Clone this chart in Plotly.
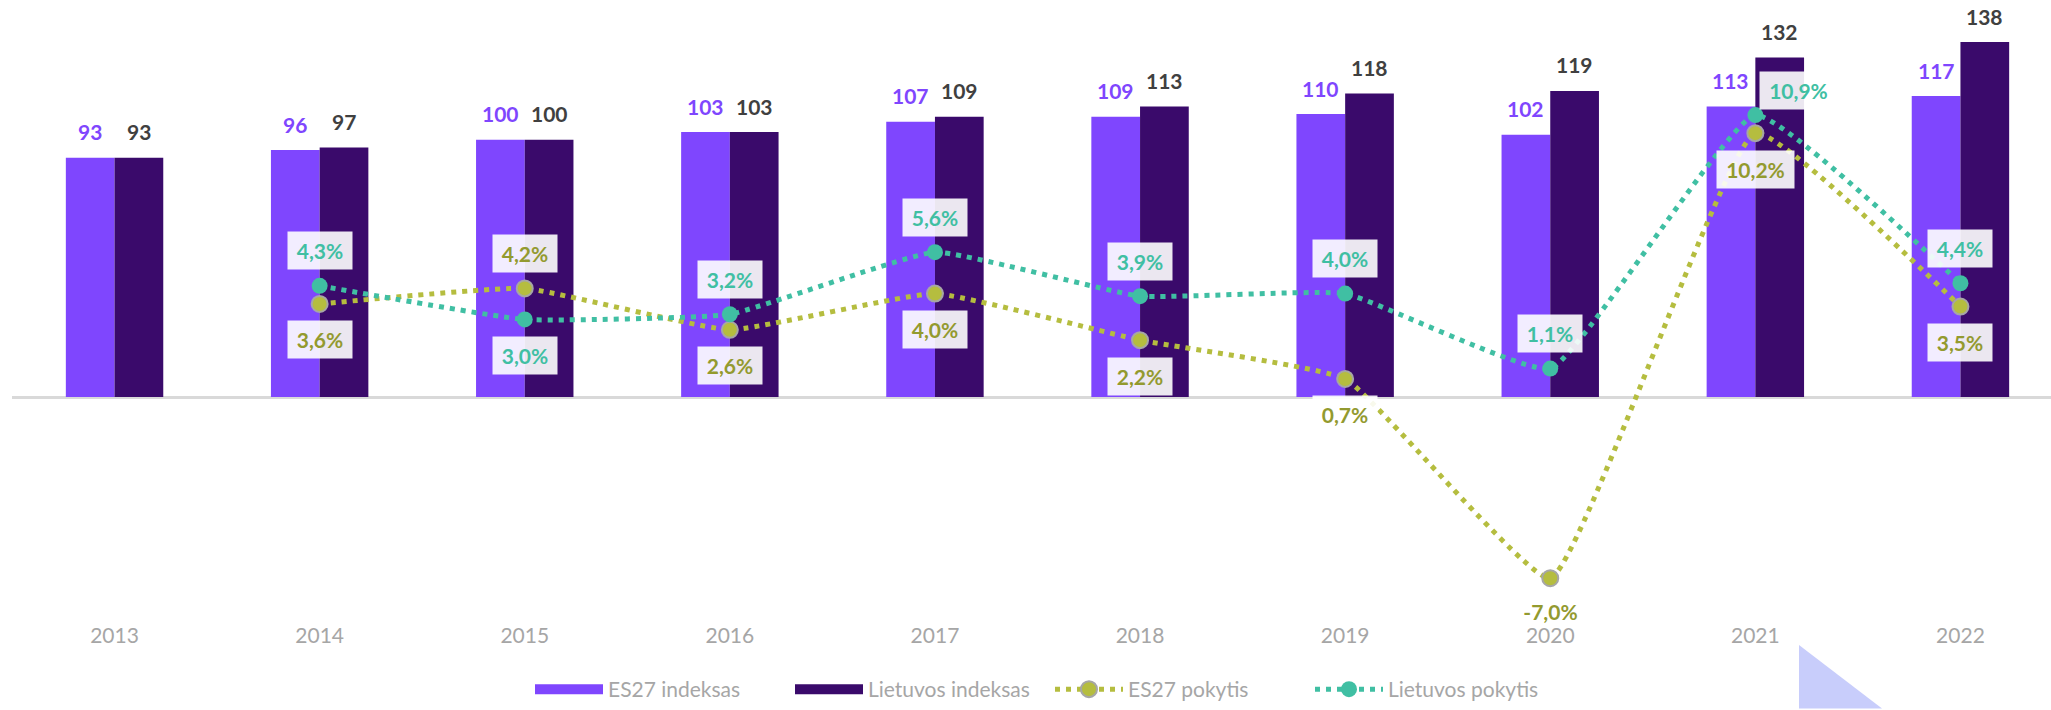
import plotly.graph_objects as go

# ---------------- data ----------------
years = ["2013", "2014", "2015", "2016", "2017", "2018", "2019", "2020", "2021", "2022"]
es_index = [93, 96, 100, 103, 107, 109, 110, 102, 113, 117]
lt_index = [93, 97, 100, 103, 109, 113, 118, 119, 132, 138]
es_change = [None, 3.6, 4.2, 2.6, 4.0, 2.2, 0.7, -7.0, 10.2, 3.5]
lt_change = [None, 4.3, 3.0, 3.2, 5.6, 3.9, 4.0, 1.1, 10.9, 4.4]

# label placement for the change series ("a" above, "b" below, "r" right/above)
es_label_pos = [None, "b", "a", "b", "b", "b", "b", "b", "b", "b"]
lt_label_pos = [None, "a", "b", "a", "a", "a", "a", "a", "r", "a"]

# ---------------- style ----------------
C_ES_BAR = "#7f46fe"
C_LT_BAR = "#3a0a6b"
C_ES_LINE = "#b5bd3f"
C_ES_TXT = "#939a2f"
C_LT_LINE = "#40bfa3"
C_AXIS_TXT = "#a6a6a6"
FONT = "Lato"

W, H = 2051, 710
ML, MR, MT, MB = 12, 0, 0, 86
plot_w = W - ML - MR
cat_px = 205.1
x_range = [-0.5, -0.5 + plot_w / cat_px]

zero_px = 399 - MT
plot_h = H - MT - MB
bar_px = 2.585
pct_px = 26.0
y_range = [-(plot_h - zero_px) / bar_px, zero_px / bar_px]
y2_range = [-(plot_h - zero_px) / pct_px, zero_px / pct_px]

fig = go.Figure()

fig.add_trace(go.Bar(x=years, y=es_index, name="ES27 indeksas", marker=dict(color=C_ES_BAR, line=dict(width=0)),
                     showlegend=False, offsetgroup="es", hoverinfo="skip"))
fig.add_trace(go.Bar(x=years, y=lt_index, name="Lietuvos indeksas", marker=dict(color=C_LT_BAR, line=dict(width=0)),
                     showlegend=False, offsetgroup="lt", hoverinfo="skip"))

# legend proxies for the bars (wide rectangles)
fig.add_trace(go.Scatter(x=[None], y=[None], mode="lines", name="ES27 indeksas",
                         line=dict(color=C_ES_BAR, width=13)))
fig.add_trace(go.Scatter(x=[None], y=[None], mode="lines", name="Lietuvos indeksas",
                         line=dict(color=C_LT_BAR, width=13)))

fig.add_trace(go.Scatter(x=years, y=es_change, yaxis="y2", mode="lines+markers", name="ES27 pokytis",
                         line=dict(color=C_ES_LINE, width=5, dash="5px,6px", shape="spline", smoothing=0.35),
                         marker=dict(size=16, color=C_ES_LINE, line=dict(color="#a6a6a6", width=2))))
fig.add_trace(go.Scatter(x=years, y=lt_change, yaxis="y2", mode="lines+markers", name="Lietuvos pokytis",
                         line=dict(color=C_LT_LINE, width=5, dash="5px,6px", shape="spline", smoothing=0.35),
                         marker=dict(size=16, color=C_LT_LINE, line=dict(width=0))))

ann = []
half = cat_px * (1 - 0.525) / 4  # offset of each bar centre from category centre
# annotations use the category index (numeric-looking category names are read as numbers)
for i, v in enumerate(es_index):
    ann.append(dict(x=i, y=v, xref="x", yref="y", text="<b>%d</b>" % v, showarrow=False,
                    xshift=-half, yshift=26,
                    font=dict(family=FONT, size=21, color=C_ES_BAR)))
for i, v in enumerate(lt_index):
    ann.append(dict(x=i, y=v, xref="x", yref="y", text="<b>%d</b>" % v, showarrow=False,
                    xshift=half, yshift=26,
                    font=dict(family=FONT, size=21, color="#404040")))


def fmt(v):
    return f"{v:.1f}".replace(".", ",") + "%"


def pct_labels(vals, poss, color):
    for i, (v, p) in enumerate(zip(vals, poss)):
        if v is None:
            continue
        label = fmt(v)
        xs, ys = 0, 35
        bg, pad = "rgba(255,255,255,0.9)", 6
        if p == "b":
            ys = -36
        elif p == "r":
            xs, ys = 43, 25
        if v < 0:  # label sitting on the white background, close to the axis labels
            ys, bg, pad = -33, "rgba(0,0,0,0)", 0
        ann.append(dict(x=i, y=v, xref="x", yref="y2", text="<b>" + label + "</b>", showarrow=False,
                        xshift=xs, yshift=ys, bgcolor=bg, borderpad=pad, width=13 * len(label),
                        font=dict(family=FONT, size=21, color=color)))


pct_labels(es_change, es_label_pos, C_ES_TXT)
pct_labels(lt_change, lt_label_pos, C_LT_LINE)

# decorative triangle in the lower right corner
px2x = lambda px: (px - ML) / plot_w
py2y = lambda py: (H - MB - py) / plot_h
tri = f"M {px2x(1799)} {py2y(648)} L {px2x(1799)} {py2y(712)} L {px2x(1882)} {py2y(712)} Z"

fig.update_layout(
    width=W, height=H,
    margin=dict(l=ML, r=MR, t=MT, b=MB, pad=0),
    paper_bgcolor="white", plot_bgcolor="white",
    barmode="group", bargap=0.525, bargroupgap=0,
    font=dict(family=FONT, color=C_AXIS_TXT),
    hovermode=False,
    xaxis=dict(type="category", range=x_range, showgrid=False, showline=False, ticks="",
               tickfont=dict(family=FONT, size=21, color=C_AXIS_TXT), fixedrange=True),
    yaxis=dict(range=y_range, showgrid=False, showticklabels=False, zeroline=True,
               zerolinecolor="#d9d9d9", zerolinewidth=3, fixedrange=True),
    yaxis2=dict(range=y2_range, overlaying="y", showgrid=False, showticklabels=False, zeroline=False,
                fixedrange=True),
    legend=dict(orientation="h", x=px2x(530), xanchor="left", y=py2y(693), yanchor="middle",
                font=dict(family=FONT, size=21, color=C_AXIS_TXT), itemwidth=68, tracegroupgap=0,
                entrywidth=177, entrywidthmode="pixels", bgcolor="rgba(0,0,0,0)"),
    annotations=ann,
    shapes=[dict(type="path", path=tri, xref="paper", yref="paper", fillcolor="#c8cdfb",
                 line=dict(width=0), layer="above")],
)

fig.write_html("out.html", config={"displayModeBar": False},
               post_script="document.body.style.margin='0px';")
